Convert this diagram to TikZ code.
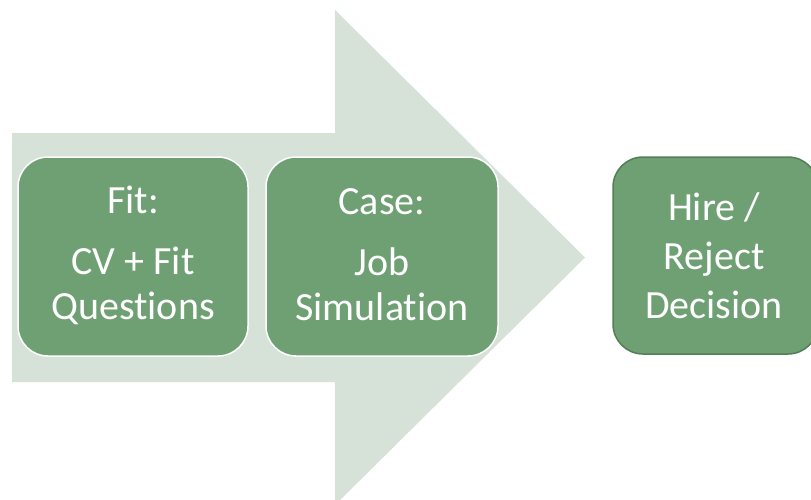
\documentclass[tikz,border=0pt]{standalone}
\usepackage{fontspec}
\setmainfont[Ligatures=CommonOff]{Carlito}
\definecolor{arrowfill}{HTML}{D6E2D7}
\definecolor{boxfill}{HTML}{6EA073}
\definecolor{boxedge}{HTML}{537E56}
\begin{document}
\begin{tikzpicture}[x=1pt,y=-1pt,
  stagebox/.style={rounded corners=30pt, fill=boxfill, line width=1.5pt},
  stagetext/.style={text=white, align=center, font=\fontsize{40}{45}\selectfont},
  bigarrow/.style={fill=arrowfill, draw=none}]
\useasboundingbox (0,0) rectangle (811,499);
\fill[white] (0,0) rectangle (811,499);
\path[bigarrow] (12,133) -- (335,133) -- (335,10) -- (585,257.5) -- (335,505) -- (335,382) -- (12,382) -- cycle;
\draw[stagebox, draw=white] (18,157) rectangle (248,356);
\node[stagetext] (fit) at (133,255) {Fit:\\[16pt]CV + Fit\\Questions};
\draw[stagebox, draw=white] (266,157) rectangle (498,356);
\node[stagetext] (case) at (382,255) {Case:\\[16pt]Job\\Simulation};
\draw[stagebox, draw=boxedge] (613,157) rectangle (818,354);
\node[stagetext, font=\fontsize{40}{49}\selectfont] (hire) at (714,255.5) {Hire /\\Reject\\Decision};
\end{tikzpicture}
\end{document}
